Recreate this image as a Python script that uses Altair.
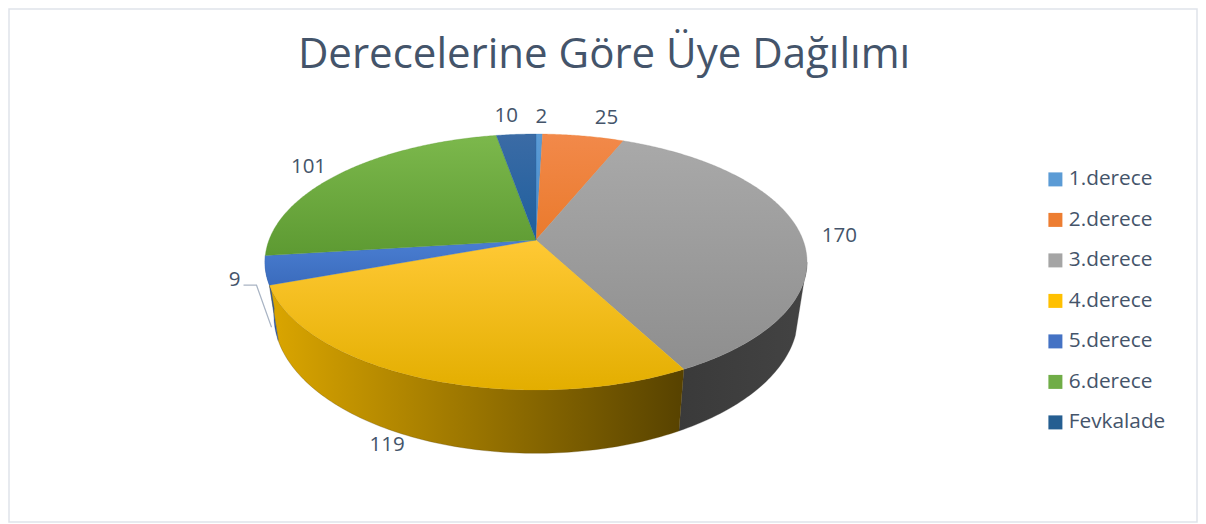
import numpy as np
import pandas as pd
import altair as alt

categories = ["1.derece", "2.derece", "3.derece", "4.derece", "5.derece", "6.derece", "Fevkalade"]
counts = [2, 25, 170, 119, 9, 101, 10]
# slice sweep in degrees as drawn in the picture (clockwise from 12 o'clock)
sweep = [1.65, 20.65, 129.7, 98.0, 13.0, 87.0, 10.0]
legend_colors = ["#5b9bd5", "#ed7d31", "#a5a5a5", "#ffc000", "#4472c4", "#70ad47", "#255e91"]
top_stops = [("#5b9bd5", "#4a8ccb"), ("#f2894a", "#ea7a2c"), ("#a9a9a9", "#8e8e8e"),
             ("#ffc935", "#e3ae00"), ("#4a7ed2", "#3b6cbd"), ("#7cb84c", "#5d9a32"), ("#3b6ba5", "#1e5f9e")]
wall_stops = [None, None, ("#3a3a3a", "#434343"), ("#dba600", "#574200"), ("#2f5597", "#2f5597"), None, None]

CX, CY, C, A, B = 536.0, 240.0, 267.0, 124.2, 0.172
XS, YA, YB = 0.967, 52.0, 1.075


def rim(deg, r=1.0):
    t = np.radians(deg)
    u, v = r * np.sin(t), r * np.cos(t)
    d = 1 + B * v
    return C * u / d, A * v / d


def lower(deg):
    x, y = rim(deg)
    return CX + XS * x, CY + YA - YB * y


def top_xy(deg, r=1.0):
    x, y = rim(deg, r)
    return CX + x, CY - y


edges = np.concatenate([[0], np.cumsum(sweep)])
mids = (edges[:-1] + edges[1:]) / 2


def poly_chart(pts, stops, horizontal=False):
    df = pd.DataFrame({"x": [p[0] for p in pts], "y": [p[1] for p in pts], "i": range(len(pts))})
    grad = alt.LinearGradient(
        gradient="linear",
        stops=[alt.GradientStop(offset=0, color=stops[0]), alt.GradientStop(offset=1, color=stops[1])],
        x1=0, y1=0, x2=1 if horizontal else 0, y2=0 if horizontal else 1,
    )
    return alt.Chart(df).mark_line(fill=grad, stroke=stops[1], strokeWidth=0.3, interpolate="linear-closed").encode(
        x=X, y=Y, order=alt.Order("i:Q"))


X = alt.X("x:Q", scale=alt.Scale(domain=[9, 1197], nice=False, zero=False), axis=None)
Y = alt.Y("y:Q", scale=alt.Scale(domain=[522, 9], nice=False, zero=False), axis=None)

layers = []

# legend carrier
leg = pd.DataFrame({"cat": categories})
layers.append(alt.Chart(leg).mark_square(size=0, opacity=1).encode(
    color=alt.Color("cat:N", scale=alt.Scale(domain=categories, range=legend_colors), legend=alt.Legend(
        title=None, orient="none", legendX=1036, legendY=160, symbolType="square", symbolSize=196,
        symbolStrokeWidth=0, symbolOpacity=1, labelFont="Open Sans", labelFontSize=20.8, labelColor="#44546a",
        labelOffset=3, rowPadding=18.5, padding=0))))

# walls: the top rim runs from the silhouette point, the lower rim from its own silhouette point
for i, stops in enumerate(wall_stops):
    if stops is None:
        continue
    a0, a1 = max(edges[i], 100), min(edges[i + 1], 276)
    ang = np.append(np.arange(a0, a1, 1.0), a1)
    low = ang[ang >= 108]
    pts = [top_xy(a) for a in ang] + [lower(a) for a in low[::-1]]
    layers.append(poly_chart(pts, stops, horizontal=True))

# top faces
for i in range(len(categories)):
    ang = np.arange(edges[i], edges[i + 1], 0.5)
    ang = np.append(ang, edges[i + 1])
    pts = [(CX, CY)] + [top_xy(a) for a in ang]
    layers.append(poly_chart(pts, top_stops[i]))

# leader line for the small slice
ax, ay = top_xy(mids[4])
lead = pd.DataFrame({"x": [ax - 22, ax - 9, ax + 6], "y": [ay + 15, ay + 15, ay + 57], "i": [0, 1, 2]})
layers.append(alt.Chart(lead).mark_line(color="#a9b4c4", strokeWidth=1.2).encode(x=X, y=Y, order="i:Q"))

# data labels: anchored on the rim of each slice
offsets = [(2, -17), (23, -18), (18, 3), (-35, 67), (-31, 10), (-24, -3), (-10, -18)]
radial = [1, 1, 1.08, 1, 1, 1.05, 1]
for i in range(len(categories)):
    lx, ly = top_xy(mids[i], radial[i])
    df = pd.DataFrame({"x": [lx], "y": [ly], "t": [str(counts[i])]})
    layers.append(alt.Chart(df).mark_text(
        font="Open Sans", fontSize=20.5, color="#44546a", dx=offsets[i][0], dy=offsets[i][1]
    ).encode(x=X, y=Y, text="t:N"))

chart = alt.layer(*layers).properties(
    width=1188, height=513, padding=1, autosize="none",
    title=alt.TitleParams("Derecelerine Göre Üye Dağılımı", font="Open Sans", fontSize=42, fontWeight="normal",
                          color="#44546a", anchor="middle", frame="group", offset=-68, dx=1),
).configure_view(stroke="#dfe3ea", strokeWidth=1.5)

chart.save("out.html", embed_options={"renderer": "svg", "actions": False})
